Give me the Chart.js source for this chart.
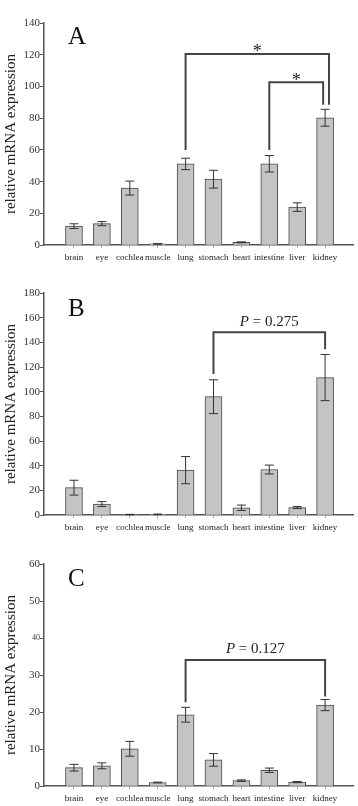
<!DOCTYPE html>
<html>
<head>
<meta charset="utf-8">
<script src="https://cdn.jsdelivr.net/npm/chart.js@4.4.1/dist/chart.umd.min.js"></script>
<style>
  html, body { margin: 0; padding: 0; background: #fff; }
  .panel { position: absolute; left: 0; width: 358px; height: 270px; }
</style>
</head>
<body>
<div class="panel" style="top:0px"><canvas id="chartA" width="358" height="270"></canvas></div>
<div class="panel" style="top:270px"><canvas id="chartB" width="358" height="270"></canvas></div>
<div class="panel" style="top:541px"><canvas id="chartC" width="358" height="270"></canvas></div>
<script>
// tissues on the x axis
var categories = ['brain', 'eye', 'cochlea', 'muscle', 'lung', 'stomach', 'heart', 'intestine', 'liver', 'kidney'];

// panel A
var valuesA = [12, 13.6, 36, 0.8, 51.2, 41.6, 1.8, 51.3, 24, 80.3];
var errorsA = [1.5, 1.3, 4.4, 0.2, 3.6, 5.6, 0.3, 5.2, 2.7, 5.3];
var ticksA = [0, 20, 40, 60, 80, 100, 120, 140];

// panel B
var valuesB = [22.3, 9, 0.5, 0.7, 36.5, 96, 6, 37, 6.2, 111.5];
var errorsB = [6, 2, 0.2, 0.2, 11, 13.7, 2.2, 3.6, 0.8, 18.7];
var ticksB = [0, 20, 40, 60, 80, 100, 120, 140, 160, 180];

// panel C
var valuesC = [5, 5.5, 10.1, 1, 19.3, 7.1, 1.5, 4.3, 1.1, 21.9];
var errorsC = [0.9, 0.8, 2, 0.1, 2, 1.7, 0.2, 0.6, 0.15, 1.5];
var ticksC = [0, 10, 20, 30, 40, 50, 60];

// significance brackets: from/to are category positions, y is the bar height in data units
var bracketsA = [
  { from: 4, to: 9.14, y: 120.5, fromY: 60, toY: 88.5, label: '*' },
  { from: 7, to: 8.93, y: 102.7, fromY: 60, toY: 88.5, label: '*' }
];
var bracketsB = [{ from: 5, to: 9, y: 148.3, fromY: 114.4, toY: 134.5, label: 'P = 0.275' }];
var bracketsC = [{ from: 4, to: 9, y: 34.1, fromY: 22.7, toY: 24.2, label: 'P = 0.127' }];

var serif = "'Liberation Serif', 'DejaVu Serif', serif";

var extrasPlugin = {
  id: 'extras',
  afterDatasetsDraw: function (chart) {
    var o = chart.options.plugins.extras;
    var x = chart.scales.x, y = chart.scales.y, ctx = chart.ctx;
    ctx.save();
    // error bars
    ctx.strokeStyle = '#333';
    ctx.lineWidth = 1;
    o.values.forEach(function (v, i) {
      var px = x.getPixelForValue(i);
      var top = y.getPixelForValue(v + o.errors[i]);
      var bot = y.getPixelForValue(Math.max(v - o.errors[i], 0));
      ctx.beginPath();
      ctx.moveTo(px, top); ctx.lineTo(px, bot);
      ctx.moveTo(px - 4.5, top); ctx.lineTo(px + 4.5, top);
      ctx.moveTo(px - 4.5, bot); ctx.lineTo(px + 4.5, bot);
      ctx.stroke();
    });
    // brackets
    ctx.strokeStyle = '#444';
    ctx.lineWidth = 2;
    ctx.fillStyle = '#222';
    ctx.textAlign = 'center';
    o.brackets.forEach(function (b) {
      var x1 = x.getPixelForValue(b.from), x2 = x.getPixelForValue(b.to);
      var yy = y.getPixelForValue(b.y);
      ctx.beginPath();
      ctx.moveTo(x1, y.getPixelForValue(b.fromY));
      ctx.lineTo(x1, yy);
      ctx.lineTo(x2, yy);
      ctx.lineTo(x2, y.getPixelForValue(b.toY));
      ctx.stroke();
      var cx = (x1 + x2) / 2;
      ctx.textBaseline = 'alphabetic';
      if (b.label === '*') {
        ctx.font = '18px ' + serif;
        ctx.fillText('*', cx, yy + 3.5);
      } else {
        // italic P, rest upright
        var rest = b.label.slice(1);
        ctx.font = 'italic 15px ' + serif;
        var wP = ctx.measureText('P').width;
        ctx.font = '15px ' + serif;
        var wR = ctx.measureText(rest).width;
        var left = cx - (wP + wR) / 2;
        ctx.textAlign = 'left';
        ctx.font = 'italic 15px ' + serif;
        ctx.fillText('P', left, yy - 6.5);
        ctx.font = '15px ' + serif;
        ctx.fillText(rest, left + wP, yy - 6.5);
        ctx.textAlign = 'center';
      }
    });
    // panel letter
    ctx.textAlign = 'left';
    ctx.textBaseline = 'alphabetic';
    ctx.font = '25px ' + serif;
    ctx.fillStyle = '#111';
    ctx.fillText(o.letter, 68, o.letterY);
    ctx.restore();
  }
};

function makeChart(id, values, errors, yTicks, brackets, letter, letterY, smallTick) {
  var maxY = yTicks[yTicks.length - 1];
  return new Chart(document.getElementById(id), {
    type: 'bar',
    data: {
      datasets: [{
        data: values.map(function (v, i) { return { x: i, y: v }; }),
        backgroundColor: '#c4c4c4',
        borderColor: '#4a4a4a',
        borderWidth: 1,
        barThickness: 17
      }]
    },
    options: {
      responsive: false,
      animation: false,
      layout: { padding: { left: 0, right: 5, top: 23, bottom: 3 } },
      plugins: {
        legend: { display: false },
        tooltip: { enabled: false },
        extras: { values: values, errors: errors, brackets: brackets, letter: letter, letterY: letterY }
      },
      scales: {
        x: {
          type: 'linear',
          min: -1.075,
          max: 10,
          offset: false,
          afterBuildTicks: function (s) {
            s.ticks = categories.map(function (c, i) { return { value: i }; });
          },
          ticks: {
            autoSkip: false,
            maxRotation: 0,
            padding: 4,
            color: '#222',
            font: { family: serif, size: 9 },
            callback: function (v) { return categories[v]; }
          },
          grid: { display: true, offset: false, drawOnChartArea: false, drawTicks: true, tickLength: 3, color: '#aaa' },
          border: { display: true, color: '#555', width: 1.5 }
        },
        y: {
          min: 0,
          max: maxY,
          afterFit: function (s) { s.width = 44; },
          afterBuildTicks: function (s) {
            s.ticks = yTicks.map(function (t) { return { value: t }; });
          },
          ticks: {
            padding: 0,
            color: '#333',
            font: function (c) {
              var small = c.tick && smallTick !== undefined && c.tick.value === smallTick;
              return { family: serif, size: small ? 8 : 11 };
            }
          },
          grid: { display: true, drawOnChartArea: false, drawTicks: true, tickLength: 4, color: '#555' },
          border: { display: true, color: '#555', width: 1.5 },
          title: {
            display: true,
            text: 'relative mRNA expression',
            color: '#222',
            font: { family: serif, size: 15 },
            padding: { top: 2.5, bottom: 0 }
          }
        }
      }
    },
    plugins: [extrasPlugin]
  });
}

makeChart('chartA', valuesA, errorsA, ticksA, bracketsA, 'A', 44);
makeChart('chartB', valuesB, errorsB, ticksB, bracketsB, 'B', 45.5);
makeChart('chartC', valuesC, errorsC, ticksC, bracketsC, 'C', 44.5, 40);
</script>
</body>
</html>
